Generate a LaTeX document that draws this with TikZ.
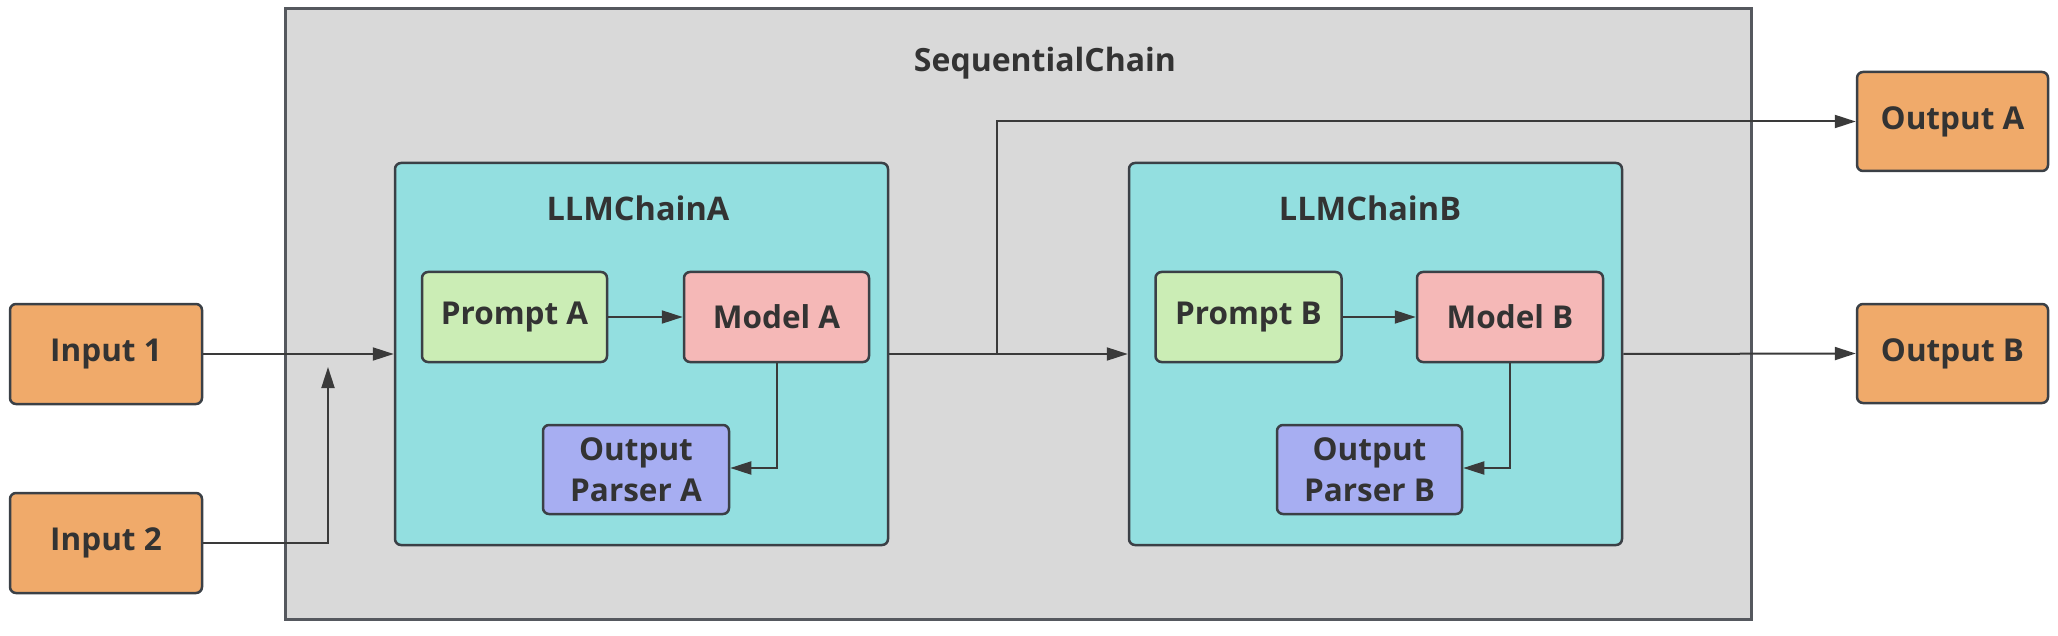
\documentclass[tikz,border=0pt]{standalone}
\usepackage{fontspec}
\setmainfont{Open Sans}
\usetikzlibrary{arrows.meta}
\definecolor{cOrange}{HTML}{F0AA6A}
\definecolor{cCyan}{HTML}{93DFE0}
\definecolor{cGrey}{HTML}{D9D9D9}
\definecolor{cGreen}{HTML}{CBEDB5}
\definecolor{cPink}{HTML}{F5B8B7}
\definecolor{cPurple}{HTML}{A7AEF2}
\definecolor{cBorder}{HTML}{3B4046}
\definecolor{cOuter}{HTML}{55585E}
\definecolor{cText}{HTML}{333333}
\definecolor{cLine}{HTML}{3A3A3A}
\begin{document}
\begin{tikzpicture}[x=1pt,y=-1pt,
  box/.style={draw=cBorder, line width=2.5pt, rounded corners=6pt, inner sep=0pt,
    text=cText, font=\bfseries\fontsize{31.5}{41}\selectfont, align=center},
  title/.style={text=cText, font=\bfseries\fontsize{32.5}{38}\selectfont, inner sep=0pt},
  link/.style={draw=cLine, line width=2pt},
  conn/.style={link, -{Triangle[length=21pt,width=13pt]}},
]
\useasboundingbox (0,0) rectangle (2058,636);
% outer SequentialChain
\node[draw=cOuter, fill=cGrey, line width=3pt, inner sep=0pt,
  minimum width=1466pt, minimum height=610pt] (seq) at (1018,314) {};
\node[title, font=\bfseries\fontsize{32}{38}\selectfont] (seqT) at (1045,63) {SequentialChain};
% chains
\node[box, fill=cCyan, minimum width=493pt, minimum height=382pt] (chA) at (641.5,354) {};
\node[box, fill=cCyan, minimum width=493pt, minimum height=382pt] (chB) at (1375.5,354) {};
\node[title] (chAT) at (638,208) {LLMChainA};
\node[title] (chBT) at (1370,208) {LLMChainB};
% inner boxes A
\node[box, fill=cGreen, minimum width=185pt, minimum height=90pt] (pA) at (514.5,317) {Prompt A};
\node[box, fill=cPink, minimum width=185pt, minimum height=90pt] (mA) at (776.5,317) {Model A};
\node[box, fill=cPurple, minimum width=186pt, minimum height=89pt] (oA) at (636,469.5) {Output\\Parser A};
% inner boxes B
\node[box, fill=cGreen, minimum width=186pt, minimum height=90pt] (pB) at (1248.5,317) {Prompt B};
\node[box, fill=cPink, minimum width=186pt, minimum height=90pt] (mB) at (1510,317) {Model B};
\node[box, fill=cPurple, minimum width=185pt, minimum height=89pt] (oB) at (1369.5,469.5) {Output\\Parser B};
% inputs / outputs
\node[box, fill=cOrange, minimum width=192pt, minimum height=100pt] (in1) at (106,354) {Input 1};
\node[box, fill=cOrange, minimum width=192pt, minimum height=100pt] (in2) at (106,543) {Input 2};
\node[box, fill=cOrange, minimum width=191pt, minimum height=99pt] (outA) at (1952.5,121.5) {Output A};
\node[box, fill=cOrange, minimum width=191pt, minimum height=99pt] (outB) at (1952.5,353.5) {Output B};
% coordinates
\coordinate (in2turn) at (328,543);
\coordinate (in2end) at (328,367);
\coordinate (junc) at (997,353);
\coordinate (juncTop) at (997,121.5);
\coordinate (mAturn) at (776.5,468);
\coordinate (mBturn) at (1510,468);
% connectors
\draw[conn] (in1.east) -- (chA.west |- in1.east);
\draw[conn] (in2.east) -- (in2turn) -- (in2end);
\draw[conn] (chA.east) -- (chB.west);
\draw[conn] (junc) -- (juncTop) -- (outA.west);
\draw[conn] (pA.east) -- (mA.west);
\draw[conn] (mA.south) -- (mAturn) -- (oA.east |- mAturn);
\draw[conn] (pB.east) -- (mB.west);
\draw[conn] (mB.south) -- (mBturn) -- (oB.east |- mBturn);
\draw[conn] (chB.east) -- (outB.west);
\end{tikzpicture}
\end{document}
